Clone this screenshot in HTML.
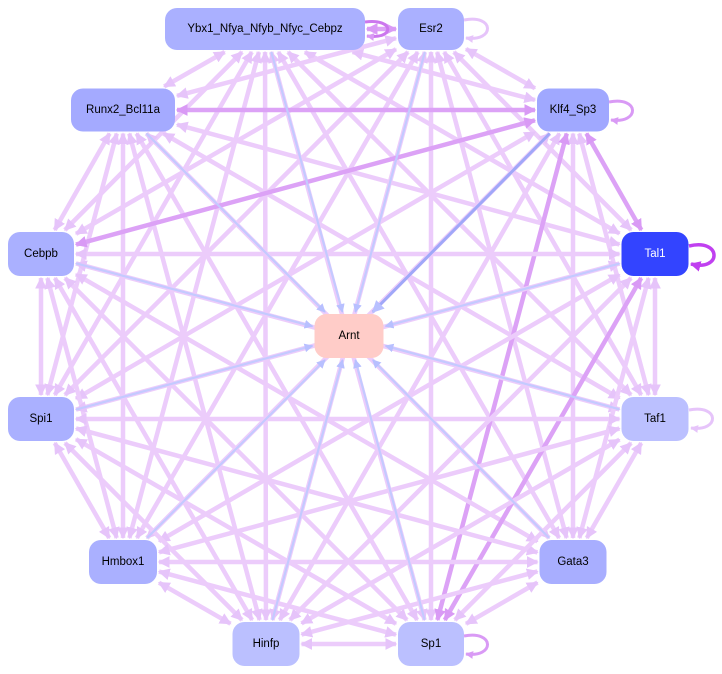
<!DOCTYPE html>
<html><head><meta charset="utf-8"><style>
html,body{margin:0;padding:0;background:#fff;width:722px;height:674px;overflow:hidden}
svg{display:block}
text{font-family:"Liberation Sans",sans-serif;font-size:11.5px;text-anchor:middle;dominant-baseline:central}
</style></head><body>
<svg id="s" width="722" height="674" xmlns="http://www.w3.org/2000/svg">
<defs>
<marker id="ap" viewBox="0 0 10 10" refX="9" refY="5" markerWidth="2.6" markerHeight="2.6" orient="auto-start-reverse"><path d="M0,0L10,5L0,10z" fill="#e6c4fa"/></marker>
<marker id="ad" viewBox="0 0 10 10" refX="9" refY="5" markerWidth="2.6" markerHeight="2.6" orient="auto-start-reverse"><path d="M0,0L10,5L0,10z" fill="#d99af5"/></marker>
<marker id="ab" viewBox="0 0 10 10" refX="9" refY="5" markerWidth="4" markerHeight="4" orient="auto"><path d="M0,0L10,5L0,10z" fill="#b8c0ff"/></marker>
<marker id="am" viewBox="0 0 10 10" refX="9" refY="5" markerWidth="3" markerHeight="3" orient="auto"><path d="M0,0L10,5L0,10z" fill="#c040f0"/></marker>
</defs>
<g id="edges"></g>
<g id="loops" fill="none" stroke-width="3">
<path d="M365,22 C395,18 395,40 367,36" stroke="#cc77ee" marker-end="url(#ad)"/>
<path d="M464,20 C495,14 495,42 466,38" stroke="#e6c4fa" marker-end="url(#ap)"/>
<path d="M609,102 C640,96 640,124 611,120" stroke="#d99af5" marker-end="url(#ad)"/>
<path d="M689,246 C722,238 722,272 691,264" stroke="#c040f0" stroke-width="3.5" marker-end="url(#am)"/>
<path d="M689,410 C720,404 720,432 691,428" stroke="#e6c4fa" marker-end="url(#ap)"/>
<path d="M464,636 C495,630 495,658 466,654" stroke="#d99af5" marker-end="url(#ad)"/>
</g>
<g id="nodes"></g>
</svg>
<script>
var N=[
["Ybx1_Nfya_Nfyb_Nfyc_Cebpz",265,29,200,42,"#aab0ff","#000"],
["Esr2",431,29,66,42,"#aab0ff","#000"],
["Runx2_Bcl11a",123,110,104,43,"#a4aaff","#000"],
["Klf4_Sp3",573,110,72,43,"#a0a8ff","#000"],
["Cebpb",41,254,66,44,"#aab0ff","#000"],
["Tal1",655,254,67,44,"#3344ff","#fff"],
["Spi1",41,419,66,44,"#aab0ff","#000"],
["Taf1",655,419,67,44,"#bbc0ff","#000"],
["Hmbox1",123,562,68,44,"#aab0ff","#000"],
["Gata3",573,562,67,44,"#a8aeff","#000"],
["Hinfp",266,644,67,44,"#bbc0ff","#000"],
["Sp1",431,644,66,44,"#bbc0ff","#000"]
];
var A=[349,336,69,44];
var NS="http://www.w3.org/2000/svg";
function el(t,a,p){var e=document.createElementNS(NS,t);for(var k in a)e.setAttribute(k,a[k]);p.appendChild(e);return e;}
function bp(n,tx,ty){var dx=tx-n[0],dy=ty-n[1];var hw=n[2]/2+2,hh=n[3]/2+2;var t=Math.min(hw/Math.abs(dx||1e-6),hh/Math.abs(dy||1e-6));return [n[0]+dx*t,n[1]+dy*t];}
var E=document.getElementById("edges");
var dark={"2-3":1,"3-5":1,"0-1":1,"3-4":1,"5-11":1,"3-11":1};
for(var i=0;i<N.length;i++)for(var j=i+1;j<N.length;j++){
 var a=[N[i][1],N[i][2],N[i][3],N[i][4]],b=[N[j][1],N[j][2],N[j][3],N[j][4]];
 var p=bp(a,b[0],b[1]),q=bp(b,a[0],a[1]);
 var dk=dark[i+"-"+j];
 var c=dk?"#dca2f6":"#ecccfb",m=dk?"url(#ad)":"url(#ap)";
 el("line",{x1:p[0],y1:p[1],x2:q[0],y2:q[1],stroke:c,"stroke-width":4.5,"marker-end":m,"marker-start":m},E);
}
for(var i=0;i<N.length;i++){
 var a=[N[i][1],N[i][2],N[i][3],N[i][4]];
 var p=bp(a,A[0],A[1]),q=bp(A,a[0],a[1]);
 var c=i==3?"#a0a8f8":"#c4caff";
 el("line",{x1:p[0],y1:p[1],x2:q[0],y2:q[1],stroke:c,"stroke-width":i==3?3:2.2,"marker-end":"url(#ab)"},E);
}
var G=document.getElementById("nodes");
function node(n,x,y,w,h,f,tc){el("rect",{x:x-w/2,y:y-h/2,width:w,height:h,rx:12,fill:f},G);var t=el("text",{x:x,y:y,fill:tc},G);t.textContent=n;}
N.forEach(function(n){node.apply(null,n)});
node("Arnt",349,336,69,44,"#ffccc8","#000");
</script>
</body></html>
